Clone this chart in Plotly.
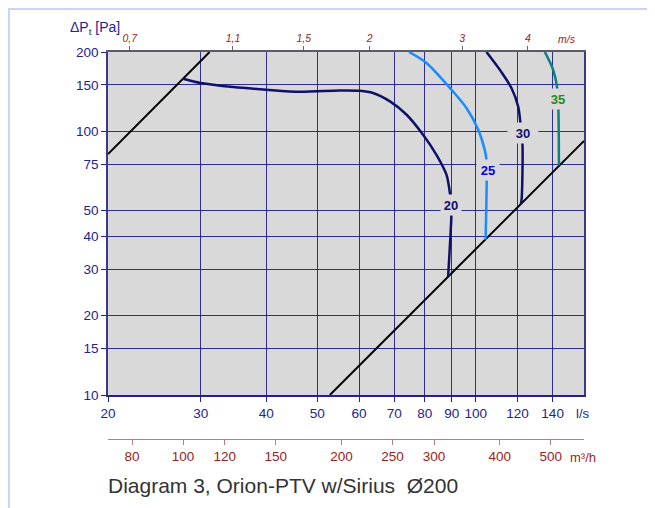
import math
import plotly.graph_objects as go

# ---------------- data ----------------
# flow in l/s, total pressure in Pa
sys_hi_q = [20.0, 31.2]
sys_hi_p = [82.0, 200.0]
sys_lo_q = [52.8, 160.6]
sys_lo_p = [10.0, 92.0]

c20_q = [27.8, 30.0, 34.6, 40.0, 46.3, 55.2, 60.2, 63.8, 68.7, 73.9, 79.4, 84.2, 88.0, 89.3, 89.8, 89.9, 88.6]
c20_p = [158.4, 152.6, 147.3, 143.9, 141.3, 143.0, 142.6, 139.8, 129.9, 115.6, 97.1, 81.5, 68.4, 58.3, 52.5, 48.6, 28.0]

c25_q = [74.7, 80.6, 89.9, 96.0, 101.1, 104.0, 104.8, 104.9, 104.4]
c25_p = [200.0, 181.7, 143.9, 122.6, 101.4, 85.1, 78.0, 64.5, 38.8]

c30_q = [104.8, 111.1, 116.9, 120.4, 121.6, 122.7, 122.2, 121.8]
c30_p = [200.0, 171.3, 146.0, 124.3, 107.5, 88.9, 55.0, 53.2]

c35_q = [135.3, 140.3, 142.8, 143.6, 143.9]
c35_p = [200.0, 171.3, 146.0, 119.0, 74.3]

curve_labels = ["20", "25", "30", "35"]
label_q = [89.8, 105.4, 123.0, 143.4]
label_p = [52.5, 71.5, 99.0, 132.6]

x_ticks = [20, 30, 40, 50, 60, 70, 80, 90, 100, 120, 140]
y_ticks = [10, 15, 20, 30, 40, 50, 75, 100, 150, 200]
v_ticks = [0.7, 1.1, 1.5, 2, 3, 4]
v_ticktext = ["0,7", "1,1", "1,5", "2", "3", "4"]
m3h_ticks = [80, 100, 120, 150, 200, 250, 300, 400, 500]

q_min, q_max = 20.0, 160.6
p_min, p_max = 10.0, 200.0
duct_area = math.pi * 0.1 ** 2 * 1000  # v [m/s] = q [l/s] / duct_area

# ---------------- styles ----------------
FONT = "Liberation Sans, Arial, sans-serif"
BLUE = "#23238f"
RED = "#9c2222"
GRID = "rgba(25,25,140,0.9)"
NAVY = "#10106a"

OFF = 8  # page body margin
W, H = 655 - OFF, 508 - OFF
ML, MT = 108 - OFF, 52 - OFF
PW, PH = 476, 387
MR, MB = W - ML - PW, H - MT - PH
plot_bottom_frac = (439 - 395) / PH


def px(xp):
    return (xp - OFF - ML) / PW


def py(yp):
    return (MT + PH - (yp - OFF)) / PH


fig = go.Figure()

fig.add_trace(go.Scatter(x=sys_hi_q, y=sys_hi_p, mode="lines",
                         line=dict(color="black", width=2), hoverinfo="skip"))
fig.add_trace(go.Scatter(x=sys_lo_q, y=sys_lo_p, mode="lines",
                         line=dict(color="black", width=2), hoverinfo="skip"))
fig.add_trace(go.Scatter(x=c20_q, y=c20_p, mode="lines", line_shape="spline",
                         line=dict(color=NAVY, width=2.5, smoothing=0.8), hoverinfo="skip"))
fig.add_trace(go.Scatter(x=c25_q, y=c25_p, mode="lines", line_shape="spline",
                         line=dict(color="#1a8cff", width=2.5, smoothing=0.8), hoverinfo="skip"))
fig.add_trace(go.Scatter(x=c30_q, y=c30_p, mode="lines", line_shape="spline",
                         line=dict(color=NAVY, width=2.5, smoothing=0.8), hoverinfo="skip"))
fig.add_trace(go.Scatter(x=c35_q, y=c35_p, mode="lines", line_shape="spline",
                         line=dict(color="#0e8080", width=2.5, smoothing=0.8), hoverinfo="skip"))
# carrier traces so the secondary (velocity / m3/h) axes get drawn
fig.add_trace(go.Scatter(x=v_ticks, y=[None] * len(v_ticks), xaxis="x2", yaxis="y",
                         mode="lines", hoverinfo="skip", showlegend=False))
fig.add_trace(go.Scatter(x=m3h_ticks, y=[None] * len(m3h_ticks), xaxis="x3", yaxis="y",
                         mode="lines", hoverinfo="skip", showlegend=False))

label_colors = [NAVY, "#0000f0", NAVY, "#1e8c1e"]
label_widths = [18, 20, 28, 20]
annotations = []
for t, q, p, c, w in zip(curve_labels, label_q, label_p, label_colors, label_widths):
    annotations.append(dict(x=math.log10(q), y=math.log10(p), xref="x", yref="y",
                            text="<b>%s</b>" % t, showarrow=False,
                            xanchor="center", yanchor="middle",
                            font=dict(family=FONT, size=13, color=c),
                            bgcolor="#d9d9d9", width=w, height=18, borderpad=1))

annotations += [
    dict(x=px(567), y=py(39), xref="paper", yref="paper", text="m/s", showarrow=False,
         xanchor="center", yanchor="middle",
         font=dict(family=FONT, size=10.5, color=RED, style="italic")),
    dict(x=px(574), y=py(413), xref="paper", yref="paper", text="l/s", showarrow=False,
         xanchor="left", yanchor="middle", font=dict(family=FONT, size=13, color=BLUE)),
    dict(x=px(568), y=py(457), xref="paper", yref="paper", text="m³/h", showarrow=False,
         xanchor="left", yanchor="middle", font=dict(family=FONT, size=13, color=RED)),
    dict(x=px(68), y=py(28), xref="paper", yref="paper", text="ΔP<sub>t</sub> [Pa]",
         showarrow=False, xanchor="left", yanchor="middle",
         font=dict(family=FONT, size=14, color=BLUE)),
    dict(x=px(106), y=py(485), xref="paper", yref="paper",
         text="Diagram 3, Orion-PTV w/Sirius  Ø200", showarrow=False,
         xanchor="left", yanchor="middle",
         font=dict(family=FONT, size=21, color="#333333")),
]

# light card frame (left and top edges)
shapes = [dict(type="path", xref="paper", yref="paper",
               path="M %f %f L %f %f L %f %f" % (px(9), py(520), px(9), py(9), px(670), py(9)),
               line=dict(color="#cad6ef", width=2), layer="below")]

fig.update_layout(
    width=W, height=H,
    margin=dict(l=ML, r=MR, t=MT, b=MB),
    paper_bgcolor="white", plot_bgcolor="#d9d9d9",
    showlegend=False,
    font=dict(family=FONT),
    annotations=annotations,
    shapes=shapes,
    xaxis=dict(type="log", range=[math.log10(q_min), math.log10(q_max)],
               tickvals=x_ticks, ticktext=[str(v) for v in x_ticks],
               tickfont=dict(family=FONT, size=13.5, color=BLUE),
               ticks="outside", ticklen=5, tickcolor=BLUE,
               showgrid=True, gridcolor=GRID, gridwidth=1,
               showline=True, linecolor=BLUE, linewidth=1.5,
               zeroline=False, anchor="y", domain=[0, 1]),
    yaxis=dict(type="log", range=[math.log10(p_min), math.log10(p_max)],
               tickvals=y_ticks, ticktext=[str(v) for v in y_ticks],
               tickfont=dict(family=FONT, size=13.5, color=BLUE),
               ticks="outside", ticklen=5, tickcolor=BLUE,
               showgrid=True, gridcolor=GRID, gridwidth=1,
               showline=True, linecolor="#3a3a8a", linewidth=1.5, mirror=True,
               zeroline=False, domain=[plot_bottom_frac, 1]),
    xaxis2=dict(type="log", overlaying="x", anchor="y", side="top",
                range=[math.log10(q_min / duct_area), math.log10(q_max / duct_area)],
                tickvals=v_ticks, ticktext=v_ticktext,
                tickfont=dict(family=FONT, size=10.5, color=RED, style="italic"),
                ticks="outside", ticklen=4, tickcolor="#666666",
                showgrid=False, showline=True, linecolor="#5a5a6a", linewidth=1.5,
                zeroline=False),
    xaxis3=dict(type="log", overlaying="x", anchor="free", position=0, side="bottom",
                range=[math.log10(q_min * 3.6), math.log10(q_max * 3.6)],
                tickvals=m3h_ticks, ticktext=[str(v) for v in m3h_ticks],
                tickfont=dict(family=FONT, size=13.5, color=RED),
                ticks="outside", ticklen=5, tickcolor="#c47a7a",
                showgrid=False, showline=True, linecolor="#c47a7a", linewidth=1,
                zeroline=False),
)

fig.write_html("out.html")
